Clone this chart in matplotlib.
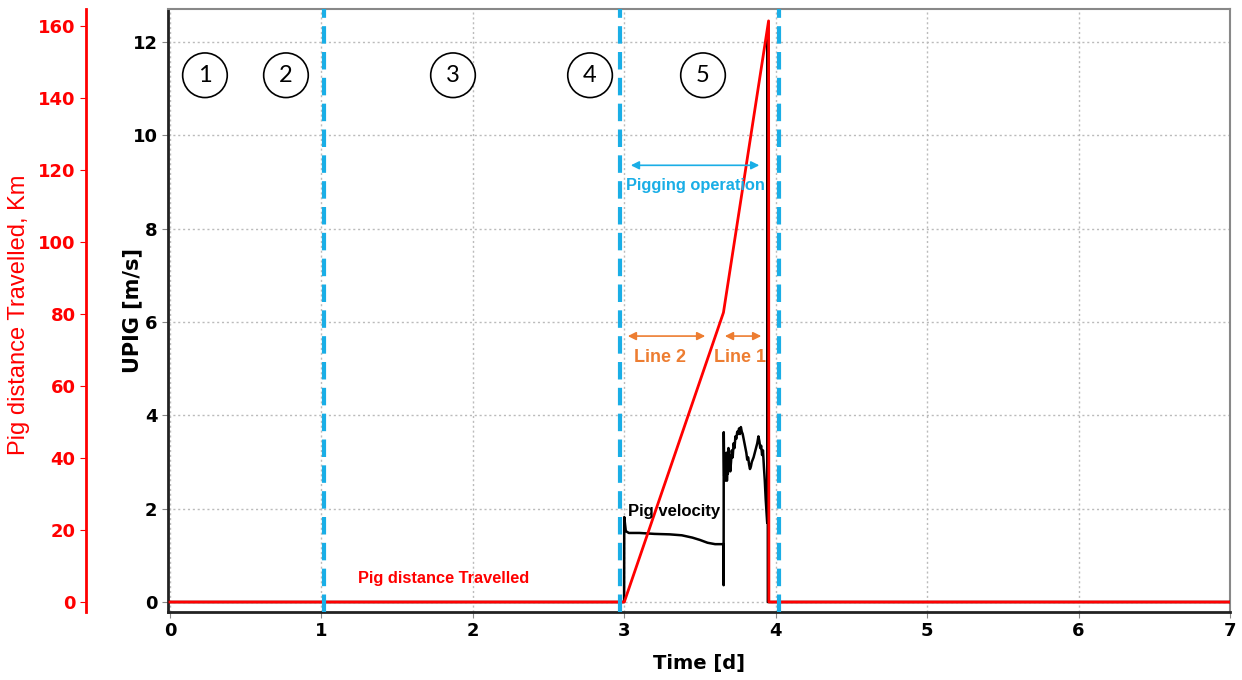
import matplotlib
matplotlib.use("Agg")
import matplotlib.pyplot as plt

# ---- datos ----
t_vel = [0.0, 2.999, 3.0, 3.004, 3.01, 3.03, 3.1, 3.2, 3.3, 3.38, 3.45, 3.5, 3.55, 3.6, 3.655,
         3.656, 3.657, 3.660, 3.663, 3.666, 3.669, 3.672, 3.675, 3.678, 3.681, 3.684, 3.688,
         3.692, 3.696, 3.700, 3.705, 3.710, 3.716, 3.722, 3.728, 3.734, 3.740, 3.746, 3.752,
         3.758, 3.764, 3.770, 3.776, 3.782, 3.788, 3.794, 3.800, 3.806, 3.812, 3.818, 3.824,
         3.830, 3.836, 3.842, 3.854, 3.866, 3.878, 3.886, 3.892, 3.898, 3.904, 3.910, 3.916,
         3.922, 3.928, 3.934, 3.940, 3.944, 3.947, 3.948, 7.0]
v_pig = [0.0, 0.0, 1.82, 1.7, 1.52, 1.48, 1.48, 1.46, 1.45, 1.43, 1.38, 1.33, 1.27, 1.24, 1.24,
         0.36, 3.64, 2.7, 3.1, 2.6, 3.0, 2.7, 3.2, 2.6, 2.9, 2.75, 3.3,
         2.9, 3.15, 2.8, 3.0, 3.25, 3.1, 3.4, 3.3, 3.55, 3.5, 3.65, 3.6,
         3.72, 3.6, 3.75, 3.65, 3.6, 3.5, 3.4, 3.3, 3.2, 3.05, 3.1, 2.95,
         2.85, 2.9, 3.0, 3.1, 3.25, 3.4, 3.55, 3.45, 3.3, 3.35, 3.15, 3.25,
         2.9, 2.6, 2.2, 1.9, 1.7, 12.2, 0.0, 0.0]

t_dist = [0.0, 3.0, 3.655, 3.953, 3.955, 7.0]
d_pig = [0.0, 0.0, 80.4, 161.4, 0.0, 0.0]

fases_x = [1.02, 2.97, 4.02]           # lineas de separacion de etapas
etapas = ["1", "2", "3", "4", "5"]
etapas_x = [0.231, 0.766, 1.869, 2.774, 3.520]

AZUL = "#1aaee6"
NARANJA = "#ed7d31"

fig = plt.figure(figsize=(12.42, 6.8), dpi=100)
ax = fig.add_axes([168/1242, 1-612/680, (1230-168)/1242, (612-9)/680])

# velocidad del pig
ax.plot(t_vel, v_pig, color="black", lw=1.8, zorder=3)
ax.set_xlim(-0.013, 7.0)
ax.set_ylim(-0.214, 12.71)
ax.set_xticks(range(8))
ax.set_yticks(range(0, 13, 2))
ax.grid(True, color="#bbbbbb", ls=(0, (1.5, 2)), lw=1)
ax.tick_params(labelsize=13, length=4, color="#888888")
for lab in ax.get_xticklabels() + ax.get_yticklabels():
    lab.set_fontweight("bold")
    lab.set_family("DejaVu Sans")
ax.set_xlabel("Time [d]", fontsize=14, fontweight="bold", family="DejaVu Sans", labelpad=10)
ax.set_ylabel("UPIG [m/s]", fontsize=15, fontweight="bold", family="DejaVu Sans")
ax.yaxis.set_label_coords(-0.0245, 0.5)
for s in ["top", "right"]:
    ax.spines[s].set_color("#888888")
    ax.spines[s].set_linewidth(1.5)
for s in ["left", "bottom"]:
    ax.spines[s].set_color("#222222")
    ax.spines[s].set_linewidth(2)

# eje rojo de distancia recorrida
ax2 = ax.twinx()
ax2.plot(t_dist, d_pig, color="red", lw=2, zorder=2)
ax2.set_ylim(-2.77, 164.7)
ax2.set_yticks(range(0, 161, 20))
ax2.yaxis.set_ticks_position("left")
ax2.yaxis.set_label_position("left")
ax2.spines["left"].set_position(("outward", 59))
ax2.spines["left"].set_color("red")
ax2.spines["left"].set_linewidth(2)
ax2.spines["right"].set_visible(False)
ax2.spines["top"].set_visible(False)
ax2.spines["bottom"].set_visible(False)
ax2.tick_params(axis="y", colors="red", labelsize=13, length=4)
for lab in ax2.get_yticklabels():
    lab.set_fontweight("bold")
    lab.set_family("DejaVu Sans")
ax2.set_ylabel("Pig distance Travelled, Km", color="red", fontsize=17,
               family="Liberation Sans")
ax2.yaxis.set_label_coords(-0.13, 0.4925)

# lineas de etapas
for xv in fases_x:
    ax2.axvline(xv, color=AZUL, lw=3, ls=(0, (4.2, 2.0)), zorder=5)

# circulos numerados
for lab, xv in zip(etapas, etapas_x):
    ax2.text(xv, 11.29, lab, transform=ax.transData, ha="center", va="center",
             fontsize=17, family="Lato",
             bbox=dict(boxstyle="circle,pad=0.5", fc="white", ec="black", lw=1.2),
             zorder=6)

# anotaciones
ax2.annotate("", xy=(3.91, 9.36), xytext=(3.025, 9.36), xycoords=ax.transData,
             textcoords=ax.transData,
             arrowprops=dict(arrowstyle="<|-|>", color=AZUL, lw=1.2, mutation_scale=12))
ax2.text(3.468, 8.93, "Pigging operation", transform=ax.transData, ha="center",
         va="center", color=AZUL, fontsize=11.8, fontweight="bold", family="Liberation Sans")

ax2.annotate("", xy=(3.553, 5.70), xytext=(3.005, 5.70), xycoords=ax.transData,
             textcoords=ax.transData,
             arrowprops=dict(arrowstyle="<|-|>", color=NARANJA, lw=1.2, mutation_scale=12))
ax2.annotate("", xy=(3.923, 5.70), xytext=(3.646, 5.70), xycoords=ax.transData,
             textcoords=ax.transData,
             arrowprops=dict(arrowstyle="<|-|>", color=NARANJA, lw=1.2, mutation_scale=12))
ax2.text(3.236, 5.25, "Line 2", transform=ax.transData, ha="center", va="center",
         color=NARANJA, fontsize=13, fontweight="bold", family="Liberation Sans")
ax2.text(3.765, 5.25, "Line 1", transform=ax.transData, ha="center", va="center",
         color=NARANJA, fontsize=13, fontweight="bold", family="Liberation Sans")

ax2.text(3.329, 1.93, "Pig velocity", transform=ax.transData, ha="center", va="center",
         color="black", fontsize=12, fontweight="bold", family="Liberation Sans")
ax2.text(1.81, 0.51, "Pig distance Travelled", transform=ax.transData, ha="center",
         va="center", color="red", fontsize=11.8, fontweight="bold", family="Liberation Sans")

fig.savefig("out.png", dpi=100)
